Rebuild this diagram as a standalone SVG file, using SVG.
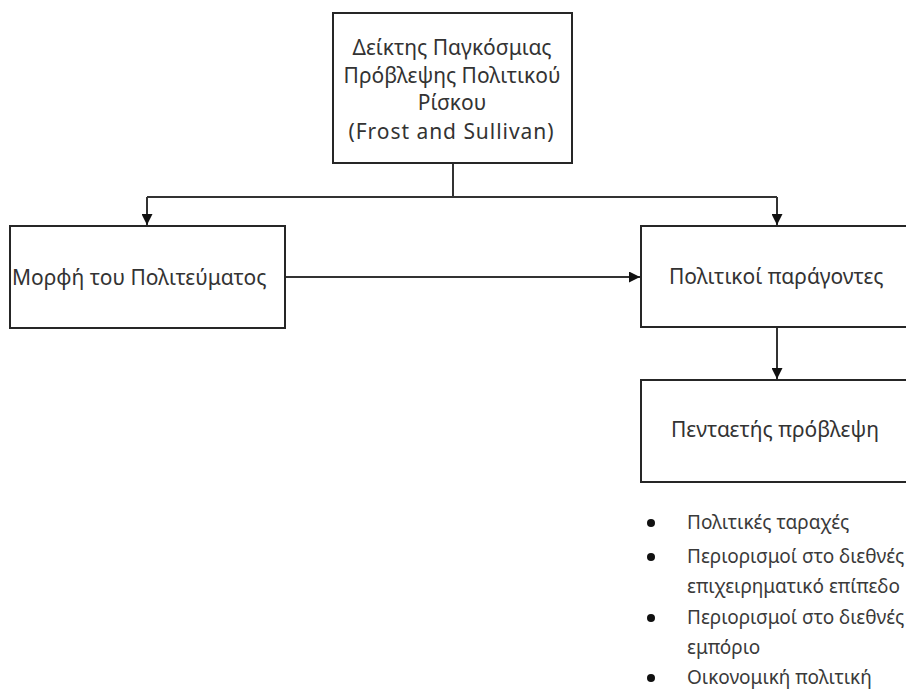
<svg xmlns="http://www.w3.org/2000/svg" width="906" height="690" viewBox="0 0 906 690">
<defs>
<marker id="arr" viewBox="0 0 10 10" refX="10" refY="5" markerWidth="11" markerHeight="11" markerUnits="userSpaceOnUse" orient="auto">
<path d="M0,0 L10,5 L0,10 z" fill="#111111"/>
</marker>
<style>
.box{fill:#ffffff;stroke:#262626;stroke-width:2}
.t{font-family:"Noto Sans","DejaVu Sans",sans-serif;font-size:21px;fill:#333333}
.s{font-family:"Noto Sans","DejaVu Sans",sans-serif;font-size:19px;fill:#3a3a3a}
.c{fill:none;stroke:#333333;stroke-width:2}
.b{fill:#111111}
</style>
</defs>
<rect width="906" height="690" fill="#ffffff"/>
<g id="connectors">
<path class="c" d="M453,164 V197"/>
<path class="c" d="M147,197 H777"/>
<path class="c" d="M147,197 V225" marker-end="url(#arr)"/>
<path class="c" d="M777,197 V225" marker-end="url(#arr)"/>
<path class="c" d="M285,277 H640" marker-end="url(#arr)"/>
<path class="c" d="M777,327 V379" marker-end="url(#arr)"/>
</g>
<g id="node-top">
<rect class="box" x="333" y="13" width="239" height="150"/>
<text class="t" x="452" y="55" text-anchor="middle">Δείκτης Παγκόσμιας</text>
<text class="t" x="452" y="83" text-anchor="middle">Πρόβλεψης Πολιτικού</text>
<text class="t" x="452" y="110" text-anchor="middle" font-size="20.5">Ρίσκου</text>
<text class="t" x="451" y="139" text-anchor="middle" font-size="22" textLength="205" lengthAdjust="spacing">(Frost and Sullivan)</text>
</g>
<g id="node-left">
<rect class="box" x="10" y="226" width="275" height="102"/>
<text class="t" x="12" y="285" font-size="22.2">Μορφή του Πολιτεύματος</text>
</g>
<g id="node-right">
<rect class="box" x="641" y="226" width="275" height="101"/>
<text class="t" x="669" y="284" font-size="21.5">Πολιτικοί παράγοντες</text>
</g>
<g id="node-bottom">
<rect class="box" x="641" y="380" width="275" height="102"/>
<text class="t" x="671" y="437" font-size="21.5">Πενταετής πρόβλεψη</text>
</g>
<g id="list">
<circle class="b" cx="651" cy="523" r="4"/>
<circle class="b" cx="651" cy="557" r="4"/>
<circle class="b" cx="651" cy="618" r="4"/>
<circle class="b" cx="651" cy="678" r="4"/>
<text class="s" x="687" y="529">Πολιτικές ταραχές</text>
<text class="s" x="687" y="563">Περιορισμοί στο διεθνές</text>
<text class="s" x="687" y="593">επιχειρηματικό επίπεδο</text>
<text class="s" x="687" y="624">Περιορισμοί στο διεθνές</text>
<text class="s" x="687" y="654">εμπόριο</text>
<text class="s" x="687" y="684">Οικονομική πολιτική</text>
</g>
</svg>
